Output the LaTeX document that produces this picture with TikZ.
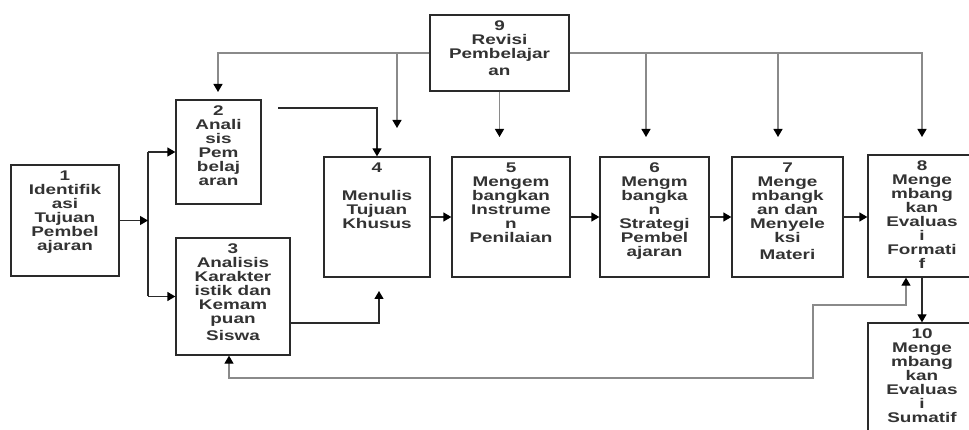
\documentclass[tikz,border=0pt]{standalone}
\usepackage{fontspec}
\setmainfont{Liberation Sans}
\newfontfamily\boxfont{Liberation Sans}[FakeStretch=1.35]
\usetikzlibrary{arrows.meta}
\definecolor{edge}{HTML}{2A2A2A}
\definecolor{txt}{HTML}{333333}
\definecolor{lgray}{HTML}{8A8A8A}
\tikzset{
  box/.style={draw=edge, line width=1.3pt, rectangle, inner sep=0pt, fill=white},
  lbl/.style={anchor=north, inner sep=0pt, align=center, text=txt,
    font=\boxfont\bfseries\fontsize{14pt}{14pt}\selectfont, yshift=-6pt},
  tip/.style={-{Triangle[width=9pt,length=8pt,color=black]}},
  dk/.style={draw=edge, line width=1.3pt},
  gr/.style={draw=lgray, line width=1.2pt},
}
\begin{document}
\begin{tikzpicture}[x=1pt,y=-1pt]
\useasboundingbox (0,0) rectangle (969,430);
\clip (0,0) rectangle (969,430);

% boxes
\node[box, minimum width=108pt, minimum height=111pt] (b1) at (65,220.5) {};
\node[lbl] (t1) at (b1.north) {1\\Identifik\\asi\\Tujuan\\Pembel\\ajaran};
\node[box, minimum width=85pt, minimum height=104pt] (b2) at (218.5,152) {};
\node[lbl] (t2) at (b2.north) {2\\Anali\\sis\\Pem\\belaj\\aran};
\node[box, minimum width=114pt, minimum height=117pt] (b3) at (233,296.5) {};
\node[lbl] (t3) at (b3.north) {3\\Analisis\\Karakter\\istik dan\\Kemam\\puan\\[3pt]Siswa};
\node[box, minimum width=106pt, minimum height=120pt] (b4) at (377,217) {};
\node[lbl] (t4) at (b4.north) {4\\[14pt]Menulis\\Tujuan\\Khusus};
\node[box, minimum width=118pt, minimum height=120pt] (b5) at (511,217) {};
\node[lbl] (t5) at (b5.north) {5\\Mengem\\bangkan\\Instrume\\n\\Penilaian};
\node[box, minimum width=109pt, minimum height=120pt] (b6) at (654.5,217) {};
\node[lbl] (t6) at (b6.north) {6\\Mengm\\bangka\\n\\Strategi\\Pembel\\ajaran};
\node[box, minimum width=111pt, minimum height=120pt] (b7) at (787.5,217) {};
\node[lbl] (t7) at (b7.north) {7\\Menge\\mbangk\\an dan\\Menyele\\ksi\\[3pt]Materi};
\node[box, minimum width=108pt, minimum height=122pt] (b8) at (922,216) {};
\node[lbl] (t8) at (b8.north) {8\\Menge\\mbang\\kan\\Evaluas\\i\\Formati\\f};
\node[box, minimum width=139pt, minimum height=76pt] (b9) at (499.5,53) {};
\node[lbl] (t9) at (b9.north) {9\\Revisi\\Pembelajar\\[3pt]an};
\node[box, minimum width=108pt, minimum height=122pt] (b10) at (922,384) {};
\node[lbl] (t10) at (b10.north) {10\\Menge\\mbang\\kan\\Evaluas\\i\\Sumatif};

% junction from 1 to 2 and 3
\coordinate (j1) at (148,220.5);
\coordinate (j2) at (148,152);
\coordinate (j3) at (148,296.5);
\draw[dk] (j2) -- (j3);
\draw[dk,tip] (b1.east) -- (j1);
\draw[dk,tip] (j2) -- (b2.west);
\draw[dk,tip] (j3) -- (b3.west);

% revision lines from 9
\coordinate (a2) at (218,92);
\coordinate (aL) at (397,128);
\coordinate (a5) at (499.5,137);
\coordinate (a6) at (646,137);
\coordinate (a7) at (778,137);
\coordinate (a8) at (922,137);
\draw[gr,tip] (b9.west) -| (a2);
\draw[gr,tip] (b9.west -| aL) -- (aL);
\draw[gr,tip] (b9.south) -- (a5);
\draw[gr,tip] (b9.east) -| (a8);
\draw[gr,tip] (b9.east -| a6) -- (a6);
\draw[gr,tip] (b9.east -| a7) -- (a7);

% 2 -> 4
\coordinate (s24) at (278,108);
\draw[dk,tip] (s24) -| (b4.north);

% 3 -> 4
\coordinate (a34) at (379,291);
\draw[dk,tip] (b3.east |- 0,323) -| (a34);

% main row
\draw[dk,tip] (b4.east) -- (b5.west);
\draw[dk,tip] (b5.east) -- (b6.west);
\draw[dk,tip] (b6.east) -- (b7.west);
\draw[dk,tip] (b7.east) -- (b7.east -| b8.west);

% 8 -> 10
\draw[dk,tip] (b8.south) -- (b10.north);

% feedback 8 <-> 3
\coordinate (f2) at (229,378);
\coordinate (f3) at (813,378);
\coordinate (f4) at (813,305);
\coordinate (f5) at (906,305);
\draw[gr,{Triangle[width=9pt,length=8pt,color=black]}-{Triangle[width=9pt,length=8pt,color=black]}]
  (b3.south -| f2) -- (f2) -- (f3) -- (f4) -- (f5) -- (b8.south -| f5);
\end{tikzpicture}
\end{document}
